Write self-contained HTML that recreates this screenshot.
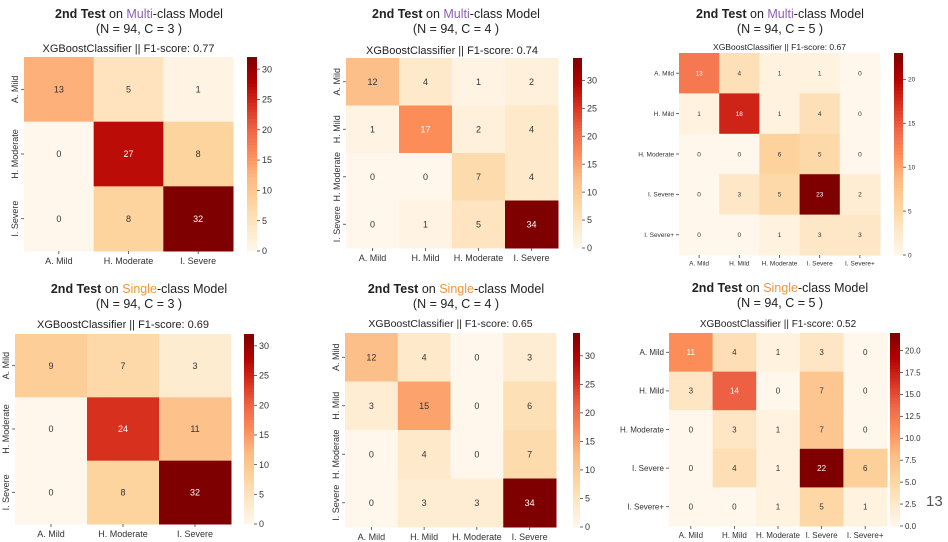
<!DOCTYPE html>
<html><head><meta charset="utf-8">
<style>
html,body{margin:0;padding:0;background:#fff;}
svg{display:block;font-family:"Liberation Sans",sans-serif;}
</style></head>
<body>
<svg id="root" width="948" height="542" viewBox="0 0 948 542" xmlns="http://www.w3.org/2000/svg">
<text x="926" y="506" font-size="15" fill="#555">13</text>
</svg>
<script>
// ---- data ----
const labels3 = ["A. Mild","H. Moderate","I. Severe"];
const labels4 = ["A. Mild","H. Mild","H.  Moderate","I. Severe"];
const labels5 = ["A. Mild","H. Mild","H.  Moderate","I. Severe","I. Severe+"];
const multiC3 = [[13,5,1],[0,27,8],[0,8,32]];
const multiC4 = [[12,4,1,2],[1,17,2,4],[0,0,7,4],[0,1,5,34]];
const multiC5 = [[13,4,1,1,0],[1,18,1,4,0],[0,0,6,5,0],[0,3,5,23,2],[0,0,1,3,3]];
const singleC3 = [[9,7,3],[0,24,11],[0,8,32]];
const singleC4 = [[12,4,0,3],[3,15,0,6],[0,4,0,7],[0,3,3,34]];
const singleC5 = [[11,4,1,3,0],[3,14,0,7,0],[0,3,1,7,0],[0,4,1,22,6],[0,0,1,5,1]];
const f1Scores = ["0.77","0.74","0.67","0.69","0.65","0.52"];
const cbarTicks30 = [0,5,10,15,20,25,30];
const cbarTicks20 = [0,5,10,15,20];
const cbarTicks25 = [0,2.5,5,7.5,10,12.5,15,17.5,20];

// ---- layout ----
const panels = [
 {m:multiC3,lab:labels3,model:"Multi",col:"#8e5fb5",C:3,f1:f1Scores[0],x0:24,x1:233,y0:57,y1:251,cx0:247,cx1:257,ticks:cbarTicks30,fmt:0,tcx:139,t1:18,t2:33,st:52,sfs:11,rot:true,fs:9},
 {m:multiC4,lab:labels4,model:"Multi",col:"#8e5fb5",C:4,f1:f1Scores[1],x0:346,x1:558,y0:58,y1:248,cx0:573,cx1:582,ticks:cbarTicks30,fmt:0,tcx:456,t1:18,t2:33,st:54,sfs:11,rot:true,fs:9},
 {m:multiC5,lab:labels5,model:"Multi",col:"#8e5fb5",C:5,f1:f1Scores[2],x0:679,x1:880,y0:53,y1:255,cx0:894,cx1:903,ticks:cbarTicks20,fmt:0,tcx:780,t1:18,t2:33,st:50,sfs:8.5,rot:false,fs:6.5},
 {m:singleC3,lab:labels3,model:"Single",col:"#f0953a",C:3,f1:f1Scores[3],x0:15,x1:231,y0:334,y1:524,cx0:244,cx1:254,ticks:cbarTicks30,fmt:0,tcx:139,t1:293,t2:308,st:328,sfs:11,rot:true,fs:9},
 {m:singleC4,lab:labels4,model:"Single",col:"#f0953a",C:4,f1:f1Scores[4],x0:345,x1:556,y0:333,y1:527,cx0:573,cx1:580,ticks:cbarTicks30,fmt:0,tcx:456,t1:293,t2:308,st:327,sfs:10.5,rot:true,fs:9},
 {m:singleC5,lab:labels5,model:"Single",col:"#f0953a",C:5,f1:f1Scores[5],x0:669,x1:887,y0:333,y1:526,cx0:890,cx1:900,ticks:cbarTicks25,fmt:1,tcx:780,t1:292,t2:307,st:327,sfs:10,rot:false,fs:8}
];

const stops = ["#fff7ec","#fee8c8","#fdd49e","#fdbb84","#fc8d59","#ef6548","#d7301f","#b30000","#7f0000"];
function hex(h){return [1,3,5].map(i=>parseInt(h.substr(i,2),16));}
function cmap(t){
  t=Math.max(0,Math.min(1,t));
  const p=t*(stops.length-1), i=Math.min(stops.length-2,Math.floor(p)), f=p-i;
  const a=hex(stops[i]), b=hex(stops[i+1]);
  return "rgb("+a.map((v,k)=>Math.round(v+(b[k]-v)*f)).join(",")+")";
}
const NS="http://www.w3.org/2000/svg";
const root=document.getElementById("root");
function el(tag,attrs,parent,txt){
  const e=document.createElementNS(NS,tag);
  for(const k in attrs) e.setAttribute(k,attrs[k]);
  if(txt!==undefined) e.textContent=txt;
  (parent||root).appendChild(e); return e;
}

panels.forEach((P,pi)=>{
  const g=el("g",{});
  
  
  const n=P.m.length;
  let vmax=0; P.m.forEach(r=>r.forEach(v=>{if(v>vmax)vmax=v;}));
  const cw=(P.x1-P.x0)/n, ch=(P.y1-P.y0)/n;
  const xs=i=>P.x0+i*cw, ys=j=>P.y0+j*ch;
  // title
  const t=el("text",{x:P.tcx,y:P.t1,"text-anchor":"middle","font-size":12.5,fill:"#222"},g);
  
  
  el("tspan",{"font-weight":"bold"},t,"2nd Test");
  el("tspan",{},t," on ");
  el("tspan",{fill:P.col},t,P.model);
  el("tspan",{},t,"-class Model");
  const t2=el("text",{x:P.tcx,y:P.t2,"text-anchor":"middle","font-size":12.5,fill:"#222"},g,"(N = 94, C = "+P.C+" )");
  
  
  const st=el("text",{x:(P.x0+P.x1)/2,y:P.st,"text-anchor":"middle","font-size":P.sfs,fill:"#222"},g,"XGBoostClassifier || F1-score: "+P.f1);
  
  
  // cells
  P.m.forEach((row,j)=>row.forEach((v,i)=>{
    const c=el("rect",{x:xs(i),y:ys(j),width:cw+0.5,height:ch+0.5,fill:cmap(v/vmax)},g);
    
    
    const tx=el("text",{x:xs(i)+cw/2,y:ys(j)+ch/2+P.fs*0.35,"text-anchor":"middle","font-size":P.fs,fill:(v/vmax>0.47?"#fff":"#333")},g,String(v));
    
    
  }));
  // x labels
  P.lab.forEach((l,i)=>{
    const cx=xs(i)+cw/2;
    el("line",{x1:cx,x2:cx,y1:P.y1,y2:P.y1+3,stroke:"#444","stroke-width":0.8},g);
    const xl=el("text",{x:cx,y:P.y1+P.fs+4,"text-anchor":"middle","font-size":P.fs,fill:"#333"},g,l);
    
    
  });
  // y labels
  P.lab.forEach((l,j)=>{
    const cy=ys(j)+ch/2;
    el("line",{x1:P.x0-3,x2:P.x0,y1:cy,y2:cy,stroke:"#444","stroke-width":0.8},g);
    let yl;
    if(P.rot){
      const x=P.x0-6;
      yl=el("text",{x:x,y:cy,"text-anchor":"middle","font-size":P.fs,fill:"#333",transform:"rotate(-90 "+x+" "+cy+")"},g,l);
    } else {
      yl=el("text",{x:P.x0-5,y:cy+P.fs*0.35,"text-anchor":"end","font-size":P.fs,fill:"#333"},g,l);
    }
    
    
  });
  // colorbar
  const H=P.y1-P.y0, N=60;
  for(let k=0;k<N;k++){
    const r=el("rect",{x:P.cx0,y:P.y1-(k+1)*H/N,width:P.cx1-P.cx0,height:H/N+0.6,fill:cmap((k+0.5)/N)},g);
    
    
  }
  const cs=v=>P.y1-v/vmax*H;
  P.ticks.forEach(v=>{
    const y=cs(v);
    el("line",{x1:P.cx1,x2:P.cx1+3,y1:y,y2:y,stroke:"#444","stroke-width":0.8},g);
    const cl=el("text",{x:P.cx1+5,y:y+P.fs*0.35,"font-size":P.fs,fill:"#333"},g,P.fmt?v.toFixed(1):String(v));
    
    
  });
});
</script>
</body></html>
